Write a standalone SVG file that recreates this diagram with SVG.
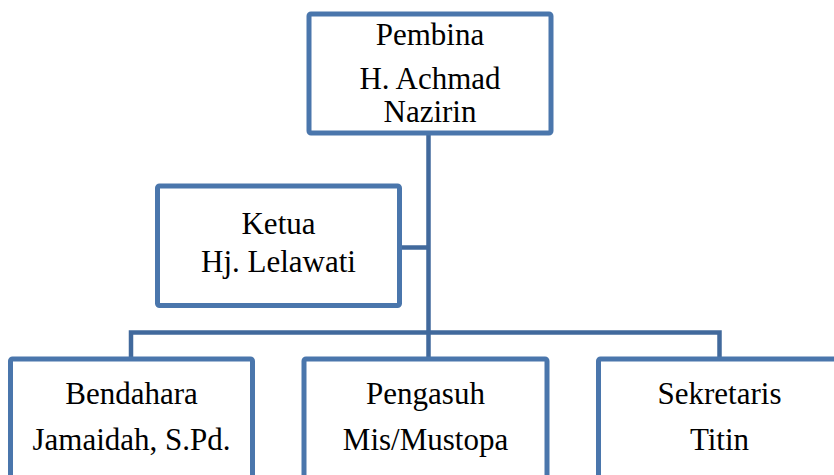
<svg xmlns="http://www.w3.org/2000/svg" width="834" height="475" viewBox="0 0 834 475">
<style>
.box{fill:#ffffff;stroke:#4a76ac;stroke-width:5;stroke-linejoin:round}
.conn{fill:none;stroke:#41699c;stroke-width:4.5}
text{font-family:"Liberation Serif","Times New Roman",serif;font-size:31px;fill:#000;text-anchor:middle}
</style>
<rect width="834" height="475" fill="#ffffff"/>
<g id="connectors">
<path class="conn" d="M428.5 133 V332"/>
<path class="conn" d="M399.5 247.5 H428.5"/>
<path class="conn" d="M131 359 V332.5 H719.5 V359"/>
<path class="conn" d="M428.5 332 V359"/>
</g>
<g id="pembina">
<rect class="box" x="309" y="14" width="242" height="119" rx="2"/>
<text x="430" y="44.5">Pembina</text>
<text x="430" y="89">H. Achmad</text>
<text x="430" y="121.5">Nazirin</text>
</g>
<g id="ketua">
<rect class="box" x="157.5" y="186" width="242" height="119.5" rx="2"/>
<text x="278.5" y="233.5">Ketua</text>
<text x="278.5" y="272">Hj. Lelawati</text>
</g>
<g id="bendahara">
<rect class="box" x="10.5" y="359" width="242" height="130" rx="2"/>
<text x="131.5" y="403.5">Bendahara</text>
<text x="131.5" y="449.5">Jamaidah, S.Pd.</text>
</g>
<g id="pengasuh">
<rect class="box" x="304" y="359" width="243" height="130" rx="2"/>
<text x="425.5" y="404">Pengasuh</text>
<text x="425.5" y="450">Mis/Mustopa</text>
</g>
<g id="sekretaris">
<rect class="box" x="598.5" y="359" width="242" height="130" rx="2"/>
<text x="719.5" y="403.5">Sekretaris</text>
<text x="719.5" y="449.5">Titin</text>
</g>
</svg>
